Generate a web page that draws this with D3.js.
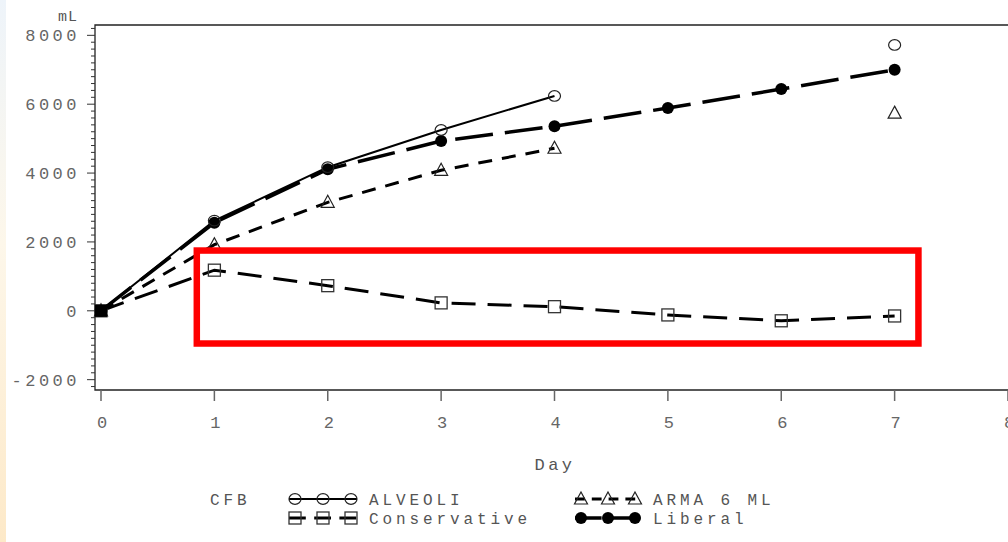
<!DOCTYPE html>
<html>
<head>
<meta charset="utf-8">
<script src="https://cdn.jsdelivr.net/npm/d3@7"></script>
<style>
  body { margin: 0; background: #fff; }
  #strip { position: absolute; left: 0; top: 0; width: 6px; height: 542px;
    background: linear-gradient(#eef4fa, #fdf7ea 45%, #fde9c8); }
  #chart svg text { font-family: "Liberation Mono", "DejaVu Sans Mono", monospace; }
</style>
</head>
<body>
<div id="strip"></div>
<div id="chart"></div>
<script>
// values (mL by day)
const days = [0, 1, 2, 3, 4, 5, 6, 7];
const alveoli = [0, 2620, 4170, 5250, 6240, null, null, 7720];
const arma = [0, 1920, 3150, 4080, 4720, null, null, 5740];
const conservative = [0, 1180, 730, 230, 120, -120, -290, -150];
const liberal = [0, 2560, 4110, 4930, 5360, 5890, 6440, 7000];
const xTicks = [0, 1, 2, 3, 4, 5, 6, 7, 8];
const yTicks = [-2000, 0, 2000, 4000, 6000, 8000];
const yMinor = d3.range(-2200, 8201, 200);
// highlighted region: [day from, day to, mL top, mL bottom]
const highlight = [0.845, 7.21, 1750, -950];

const width = 1008, height = 542;

const svg = d3.select("#chart")
  .append("svg")
  .attr("width", width)
  .attr("height", height);

// scales
const x = d3.scaleLinear().domain([0, 8]).range([101, 1008]);
const y = d3.scaleLinear().domain([-2300, 8300]).range([390, 25]);
const frameLeft = 95;

// frame: left, top, bottom
svg.append("path")
  .attr("d", `M${width},${y.range()[1]}H${frameLeft}V${y.range()[0]}H${width}`)
  .attr("fill", "none")
  .attr("stroke", "#222")
  .attr("stroke-width", 1.3);

// y axis ticks
svg.selectAll(".ymin")
  .data(yMinor.filter(v => !yTicks.includes(v)))
  .enter().append("line")
  .attr("x1", frameLeft - 4).attr("x2", frameLeft)
  .attr("y1", d => y(d)).attr("y2", d => y(d))
  .attr("stroke", "#333");

svg.selectAll(".ymaj")
  .data(yTicks)
  .enter().append("line")
  .attr("x1", frameLeft - 8).attr("x2", frameLeft)
  .attr("y1", d => y(d)).attr("y2", d => y(d))
  .attr("stroke", "#333");

svg.selectAll(".ylab")
  .data(yTicks)
  .enter().append("text")
  .attr("x", 80)
  .attr("y", d => y(d) + 6)
  .attr("text-anchor", "end")
  .attr("font-size", 17)
  .attr("letter-spacing", 3.5)
  .attr("fill", "#666")
  .text(d => d);

svg.append("text")
  .attr("x", 78).attr("y", 21)
  .attr("text-anchor", "end")
  .attr("font-size", 15)
  .attr("letter-spacing", 1)
  .attr("fill", "#555")
  .text("mL");

// x axis ticks
svg.selectAll(".xtick")
  .data(xTicks)
  .enter().append("line")
  .attr("x1", d => x(d)).attr("x2", d => x(d))
  .attr("y1", y.range()[0]).attr("y2", y.range()[0] + 11)
  .attr("stroke", "#666")
  .attr("stroke-width", 1.5);

svg.selectAll(".xlab")
  .data(xTicks)
  .enter().append("text")
  .attr("x", d => x(d) + 1)
  .attr("y", 428)
  .attr("text-anchor", "middle")
  .attr("font-size", 17)
  .attr("fill", "#666")
  .text(d => d);

svg.append("text")
  .attr("x", 555).attr("y", 470)
  .attr("text-anchor", "middle")
  .attr("font-size", 17)
  .attr("letter-spacing", 3.5)
  .attr("fill", "#555")
  .text("Day");

// series
const series = [
  { name: "Conservative", values: conservative, dash: "24,12", sw: 3, marker: "square" },
  { name: "ARMA 6 ML", values: arma, dash: "14,10", sw: 3, marker: "triangle" },
  { name: "Liberal", values: liberal, dash: "38,12", sw: 3.5, marker: "dot" },
  { name: "ALVEOLI", values: alveoli, dash: null, sw: 2, marker: "circle" }
];

const line = d3.line()
  .defined(d => d.v !== null)
  .x(d => x(d.day))
  .y(d => y(d.v));

function drawMarker(g, type, cx, cy) {
  if (type === "circle") {
    g.append("ellipse").attr("cx", cx).attr("cy", cy).attr("rx", 6).attr("ry", 5.3)
      .attr("fill", "none").attr("stroke", "#222").attr("stroke-width", 1.2);
  } else if (type === "dot") {
    g.append("circle").attr("cx", cx).attr("cy", cy).attr("r", 6)
      .attr("fill", "#000");
  } else if (type === "square") {
    g.append("rect").attr("x", cx - 6).attr("y", cy - 6).attr("width", 12).attr("height", 12)
      .attr("fill", "none").attr("stroke", "#333").attr("stroke-width", 1.3);
  } else if (type === "triangle") {
    g.append("path").attr("d", `M${cx},${cy - 7}L${cx + 6.5},${cy + 5}L${cx - 6.5},${cy + 5}Z`)
      .attr("fill", "none").attr("stroke", "#222").attr("stroke-width", 1.2);
  }
}

series.forEach(s => {
  const pts = days.map((d, i) => ({ day: d, v: s.values[i] }));
  svg.append("path")
    .datum(pts)
    .attr("fill", "none")
    .attr("stroke", "#000")
    .attr("stroke-width", s.sw)
    .attr("stroke-dasharray", s.dash)
    .attr("d", line);
  const g = svg.append("g");
  pts.filter(p => p.v !== null).forEach(p => drawMarker(g, s.marker, x(p.day), y(p.v)));
});

// day-0 markers overlap into a black block
svg.append("rect")
  .attr("x", x(0) - 6).attr("y", y(0) - 6)
  .attr("width", 12).attr("height", 12)
  .attr("fill", "#000");

// red highlight box
svg.append("rect")
  .attr("x", x(highlight[0]))
  .attr("y", y(highlight[2]))
  .attr("width", x(highlight[1]) - x(highlight[0]))
  .attr("height", y(highlight[3]) - y(highlight[2]))
  .attr("fill", "none")
  .attr("stroke", "#ff0000")
  .attr("stroke-width", 6.5);

// legend
svg.append("text")
  .attr("x", 210).attr("y", 505)
  .attr("font-size", 16)
  .attr("letter-spacing", 3.9)
  .attr("fill", "#555")
  .text("CFB");

const legendPos = [
  { s: series[3], x0: 289, x1: 357, yy: 499 },
  { s: series[1], x0: 575, x1: 641, yy: 499 },
  { s: series[0], x0: 289, x1: 357, yy: 518 },
  { s: series[2], x0: 575, x1: 641, yy: 518 }
];

legendPos.forEach(l => {
  const g = svg.append("g");
  g.append("line")
    .attr("x1", l.x0).attr("x2", l.x1)
    .attr("y1", l.yy).attr("y2", l.yy)
    .attr("stroke", "#000")
    .attr("stroke-width", l.s.sw)
    .attr("stroke-dasharray", l.s.dash ? l.s.dash.split(",").map(v => v * 0.7).join(",") : null);
  [l.x0 + 6, (l.x0 + l.x1) / 2, l.x1 - 6].forEach(cx => drawMarker(g, l.s.marker, cx, l.yy));
  g.append("text")
    .attr("x", l.x1 + 12).attr("y", l.yy + 6)
    .attr("font-size", 16)
    .attr("letter-spacing", 3.9)
    .attr("fill", "#555")
    .text(l.s.name);
});
</script>
</body>
</html>
